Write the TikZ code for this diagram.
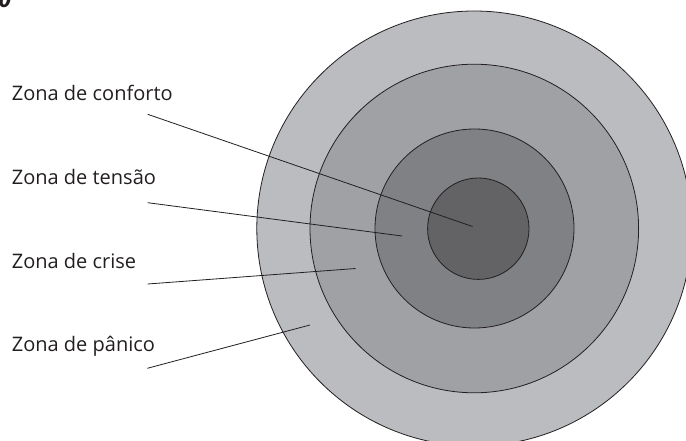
\documentclass[tikz,border=0pt]{standalone}
\usepackage{fontspec}
\setmainfont{Open Sans}
\definecolor{zonaPanico}  {RGB}{187, 188, 192}
\definecolor{zonaCrise}   {RGB}{160, 161, 165}
\definecolor{zonaTensao}  {RGB}{128, 129, 133}
\definecolor{zonaConforto}{RGB}{ 99,  99, 101}
\definecolor{zonaInk}     {RGB}{ 35,  31,  32}
\usetikzlibrary{positioning}

\begin{document}
\begin{tikzpicture}[
  x=1pt, y=-1pt,
  ring/.style  ={draw=zonaInk, line width=0.8pt},
  lbl/.style   ={anchor=base west, inner sep=0pt, text=zonaInk,
                 font=\fontsize{20}{24}\selectfont},
  pointer/.style={draw=zonaInk, line width=0.8pt},
]
  \useasboundingbox (0,0) rectangle (686,441);
  \clip (0,0) rectangle (686,441);

  % Concentric zones, outer to inner
  \fill[white] (0,0) rectangle (686,441);
  \draw[ring, fill=zonaPanico]   (474.3,228.5) circle (217.5);
  \draw[ring, fill=zonaCrise]    (474.3,228.5) circle (164.3);
  \draw[ring, fill=zonaTensao]   (474.5,228.5) circle (99.5);
  \draw[ring, fill=zonaConforto] (478.3,228.7) circle (50.7);

  % cut-off figure number in the corner
  \node[anchor=base, inner sep=0pt, text=zonaInk,
        font=\fontsize{22}{26}\selectfont\bfseries\itshape] (fignum) at (5,8) {0};

  % Labels
  \node[lbl] (conforto) at (11.7,101) {Zona de conforto};
  \node[lbl] (tensao)   at (11.7,185) {Zona de tensão};
  \node[lbl] (crise)    at (11.7,268.5) {Zona de crise};
  \node[lbl] (panico)   at (11.7,351.7) {Zona de pânico};

  % Pointer ends
  \coordinate (conforto-from) at (147.7,114.3);
  \coordinate (conforto-to)   at (472.5,226.5);
  \coordinate (tensao-from)   at (147.7,202.7);
  \coordinate (tensao-to)     at (402,236);
  \coordinate (crise-from)    at (147.7,284);
  \coordinate (crise-to)      at (355.7,268.5);
  \coordinate (panico-from)   at (147.3,368.3);
  \coordinate (panico-to)     at (310,325);

  \draw[pointer] (conforto-from) -- (conforto-to);
  \draw[pointer] (tensao-from)   -- (tensao-to);
  \draw[pointer] (crise-from)    -- (crise-to);
  \draw[pointer] (panico-from)   -- (panico-to);
\end{tikzpicture}
\end{document}
